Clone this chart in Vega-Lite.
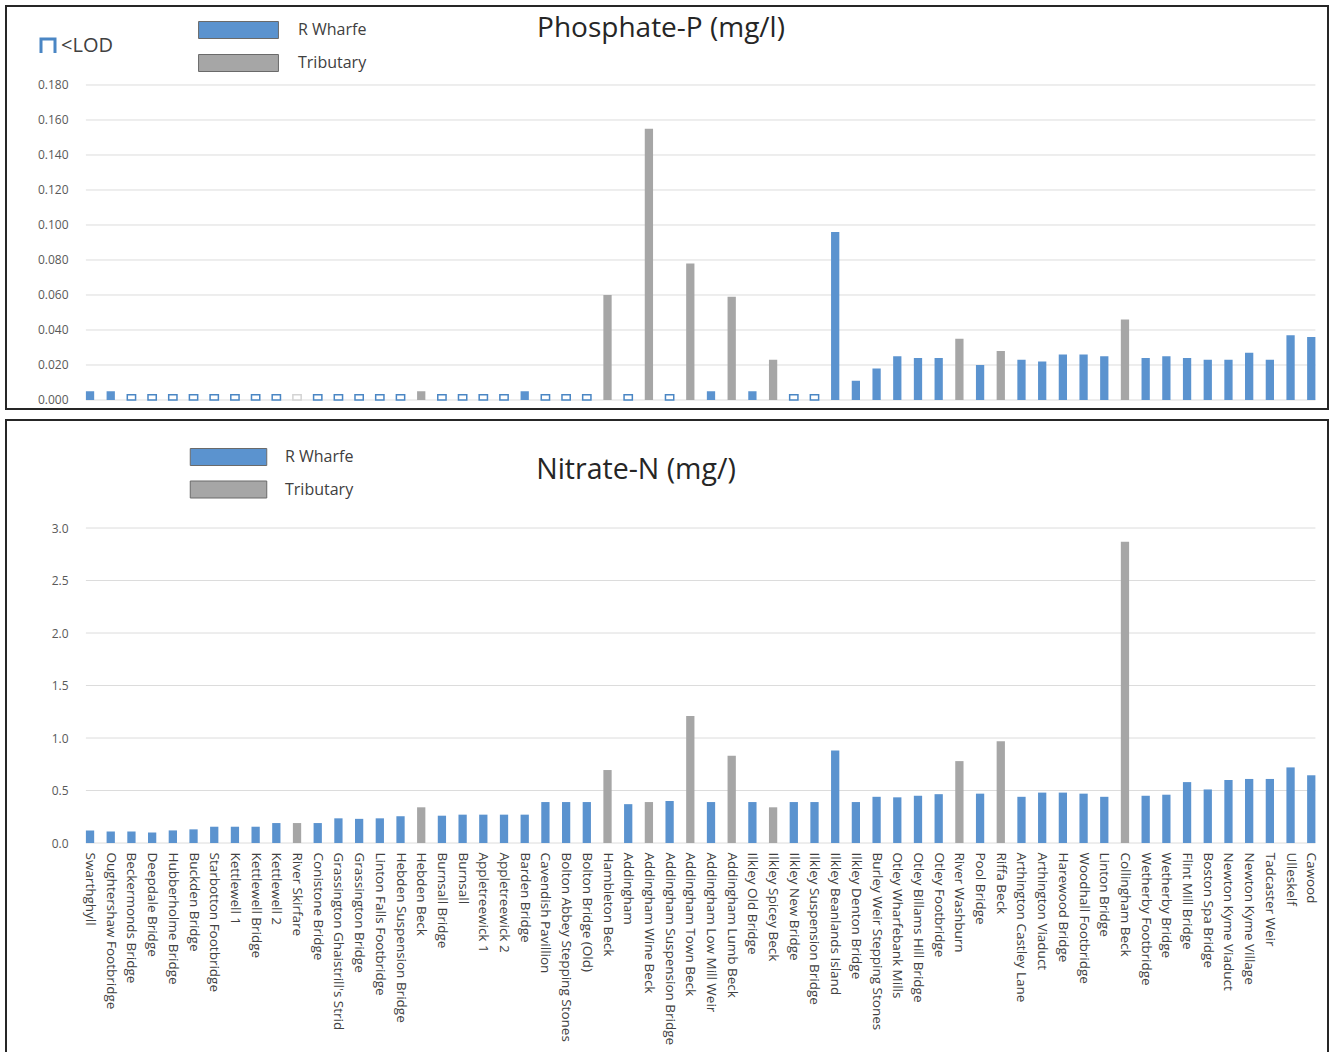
{
  "$schema": "https://vega.github.io/schema/vega-lite/v6.json",
  "background": "white",
  "padding": {"left": 5, "top": 5, "right": 5, "bottom": 0},
  "config": {
    "view": {"stroke": "#262626", "strokeWidth": 2},
    "font": "Open Sans"
  },
  "datasets": {
    "sites": [
      {"site": "Swarthghyll", "type": "R Wharfe", "status": "measured", "p": 0.005, "n": 0.12},
      {"site": "Oughtershaw Footbridge", "type": "R Wharfe", "status": "measured", "p": 0.005, "n": 0.11},
      {"site": "Beckermonds Bridge", "type": "R Wharfe", "status": "<LOD", "p": 0.003, "n": 0.11},
      {"site": "Deepdale Bridge", "type": "R Wharfe", "status": "<LOD", "p": 0.003, "n": 0.10},
      {"site": "Hubberholme Bridge", "type": "R Wharfe", "status": "<LOD", "p": 0.003, "n": 0.12},
      {"site": "Buckden Bridge", "type": "R Wharfe", "status": "<LOD", "p": 0.003, "n": 0.13},
      {"site": "Starbotton Footbridge", "type": "R Wharfe", "status": "<LOD", "p": 0.003, "n": 0.155},
      {"site": "Kettlewell 1", "type": "R Wharfe", "status": "<LOD", "p": 0.003, "n": 0.155},
      {"site": "Kettlewell Bridge", "type": "R Wharfe", "status": "<LOD", "p": 0.003, "n": 0.155},
      {"site": "Kettlewell 2", "type": "R Wharfe", "status": "<LOD", "p": 0.003, "n": 0.19},
      {"site": "River Skirfare", "type": "Tributary", "status": "<LOD", "p": 0.003, "n": 0.19},
      {"site": "Conistone Bridge", "type": "R Wharfe", "status": "<LOD", "p": 0.003, "n": 0.19},
      {"site": "Grassington Ghaistrill's Strid", "type": "R Wharfe", "status": "<LOD", "p": 0.003, "n": 0.235},
      {"site": "Grassington Bridge", "type": "R Wharfe", "status": "<LOD", "p": 0.003, "n": 0.23},
      {"site": "Linton Falls Footbridge", "type": "R Wharfe", "status": "<LOD", "p": 0.003, "n": 0.235},
      {"site": "Hebden Suspension Bridge", "type": "R Wharfe", "status": "<LOD", "p": 0.003, "n": 0.255},
      {"site": "Hebden Beck", "type": "Tributary", "status": "measured", "p": 0.005, "n": 0.34},
      {"site": "Burnsall Bridge", "type": "R Wharfe", "status": "<LOD", "p": 0.003, "n": 0.26},
      {"site": "Burnsall", "type": "R Wharfe", "status": "<LOD", "p": 0.003, "n": 0.27},
      {"site": "Appletreewick 1", "type": "R Wharfe", "status": "<LOD", "p": 0.003, "n": 0.27},
      {"site": "Appletreewick 2", "type": "R Wharfe", "status": "<LOD", "p": 0.003, "n": 0.27},
      {"site": "Barden Bridge", "type": "R Wharfe", "status": "measured", "p": 0.005, "n": 0.27},
      {"site": "Cavendish Pavillion", "type": "R Wharfe", "status": "<LOD", "p": 0.003, "n": 0.39},
      {"site": "Bolton Abbey Stepping Stones", "type": "R Wharfe", "status": "<LOD", "p": 0.003, "n": 0.39},
      {"site": "Bolton Bridge (Old)", "type": "R Wharfe", "status": "<LOD", "p": 0.003, "n": 0.39},
      {"site": "Hambleton Beck", "type": "Tributary", "status": "measured", "p": 0.060, "n": 0.695},
      {"site": "Addingham", "type": "R Wharfe", "status": "<LOD", "p": 0.003, "n": 0.37},
      {"site": "Addingham Wine Beck", "type": "Tributary", "status": "measured", "p": 0.155, "n": 0.39},
      {"site": "Addingham Suspension Bridge", "type": "R Wharfe", "status": "<LOD", "p": 0.003, "n": 0.40},
      {"site": "Addingham Town Beck", "type": "Tributary", "status": "measured", "p": 0.078, "n": 1.21},
      {"site": "Addingham Low Mill Weir", "type": "R Wharfe", "status": "measured", "p": 0.005, "n": 0.39},
      {"site": "Addingham Lumb Beck", "type": "Tributary", "status": "measured", "p": 0.059, "n": 0.83},
      {"site": "Ilkley Old Bridge", "type": "R Wharfe", "status": "measured", "p": 0.005, "n": 0.39},
      {"site": "Ilkley Spicey Beck", "type": "Tributary", "status": "measured", "p": 0.023, "n": 0.34},
      {"site": "Ilkley New Bridge", "type": "R Wharfe", "status": "<LOD", "p": 0.003, "n": 0.39},
      {"site": "Ilkley Suspension Bridge", "type": "R Wharfe", "status": "<LOD", "p": 0.003, "n": 0.39},
      {"site": "Ilkley Beanlands Island", "type": "R Wharfe", "status": "measured", "p": 0.096, "n": 0.88},
      {"site": "Ilkley Denton Bridge", "type": "R Wharfe", "status": "measured", "p": 0.011, "n": 0.39},
      {"site": "Burley Weir Stepping Stones", "type": "R Wharfe", "status": "measured", "p": 0.018, "n": 0.44},
      {"site": "Otley Wharfebank Mills", "type": "R Wharfe", "status": "measured", "p": 0.025, "n": 0.435},
      {"site": "Otley Billams Hill Bridge", "type": "R Wharfe", "status": "measured", "p": 0.024, "n": 0.45},
      {"site": "Otley Footbridge", "type": "R Wharfe", "status": "measured", "p": 0.024, "n": 0.465},
      {"site": "River Washburn", "type": "Tributary", "status": "measured", "p": 0.035, "n": 0.78},
      {"site": "Pool Bridge", "type": "R Wharfe", "status": "measured", "p": 0.020, "n": 0.47},
      {"site": "Riffa Beck", "type": "Tributary", "status": "measured", "p": 0.028, "n": 0.97},
      {"site": "Arthington Castley Lane", "type": "R Wharfe", "status": "measured", "p": 0.023, "n": 0.44},
      {"site": "Arthington Viaduct", "type": "R Wharfe", "status": "measured", "p": 0.022, "n": 0.48},
      {"site": "Harewood Bridge", "type": "R Wharfe", "status": "measured", "p": 0.026, "n": 0.48},
      {"site": "Woodhall Footbridge", "type": "R Wharfe", "status": "measured", "p": 0.026, "n": 0.47},
      {"site": "Linton Bridge", "type": "R Wharfe", "status": "measured", "p": 0.025, "n": 0.44},
      {"site": "Collingham Beck", "type": "Tributary", "status": "measured", "p": 0.046, "n": 2.87},
      {"site": "Wetherby Footbridge", "type": "R Wharfe", "status": "measured", "p": 0.024, "n": 0.45},
      {"site": "Wetherby Bridge", "type": "R Wharfe", "status": "measured", "p": 0.025, "n": 0.46},
      {"site": "Flint Mill Bridge", "type": "R Wharfe", "status": "measured", "p": 0.024, "n": 0.58},
      {"site": "Boston Spa Bridge", "type": "R Wharfe", "status": "measured", "p": 0.023, "n": 0.51},
      {"site": "Newton Kyme Viaduct", "type": "R Wharfe", "status": "measured", "p": 0.023, "n": 0.60},
      {"site": "Newton Kyme Village", "type": "R Wharfe", "status": "measured", "p": 0.027, "n": 0.61},
      {"site": "Tadcaster Weir", "type": "R Wharfe", "status": "measured", "p": 0.023, "n": 0.61},
      {"site": "Ulleskelf", "type": "R Wharfe", "status": "measured", "p": 0.037, "n": 0.72},
      {"site": "Cawood", "type": "R Wharfe", "status": "measured", "p": 0.036, "n": 0.645}
    ],
    "gridP": [
      {"v": 0, "a": "Swarthghyll", "b": "Cawood"},
      {"v": 0.02, "a": "Swarthghyll", "b": "Cawood"},
      {"v": 0.04, "a": "Swarthghyll", "b": "Cawood"},
      {"v": 0.06, "a": "Swarthghyll", "b": "Cawood"},
      {"v": 0.08, "a": "Swarthghyll", "b": "Cawood"},
      {"v": 0.10, "a": "Swarthghyll", "b": "Cawood"},
      {"v": 0.12, "a": "Swarthghyll", "b": "Cawood"},
      {"v": 0.14, "a": "Swarthghyll", "b": "Cawood"},
      {"v": 0.16, "a": "Swarthghyll", "b": "Cawood"},
      {"v": 0.18, "a": "Swarthghyll", "b": "Cawood"}
    ],
    "gridN": [
      {"v": 0, "a": "Swarthghyll", "b": "Cawood"},
      {"v": 0.5, "a": "Swarthghyll", "b": "Cawood"},
      {"v": 1.0, "a": "Swarthghyll", "b": "Cawood"},
      {"v": 1.5, "a": "Swarthghyll", "b": "Cawood"},
      {"v": 2.0, "a": "Swarthghyll", "b": "Cawood"},
      {"v": 2.5, "a": "Swarthghyll", "b": "Cawood"},
      {"v": 3.0, "a": "Swarthghyll", "b": "Cawood"}
    ]
  },
  "spacing": 9,
  "resolve": {"legend": {"color": "independent"}},
  "vconcat": [
    {
      "width": 1322,
      "height": 403,
      "title": {"text": "Phosphate-P (mg/l)", "anchor": "middle", "frame": "group", "orient": "top", "offset": -59, "baseline": "alphabetic", "dx": -6, "fontSize": 28, "font": "Open Sans", "fontWeight": "normal", "color": "#262626"},
      "layer": [
        {
          "data": {"name": "gridP"},
          "mark": {"type": "rule", "color": "#dcdcdc", "strokeWidth": 1},
          "encoding": {
            "x": {"field": "a", "type": "nominal", "bandPosition": 0, "axis": null,
              "scale": {"domain": ["Swarthghyll","Oughtershaw Footbridge","Beckermonds Bridge","Deepdale Bridge","Hubberholme Bridge","Buckden Bridge","Starbotton Footbridge","Kettlewell 1","Kettlewell Bridge","Kettlewell 2","River Skirfare","Conistone Bridge","Grassington Ghaistrill's Strid","Grassington Bridge","Linton Falls Footbridge","Hebden Suspension Bridge","Hebden Beck","Burnsall Bridge","Burnsall","Appletreewick 1","Appletreewick 2","Barden Bridge","Cavendish Pavillion","Bolton Abbey Stepping Stones","Bolton Bridge (Old)","Hambleton Beck","Addingham","Addingham Wine Beck","Addingham Suspension Bridge","Addingham Town Beck","Addingham Low Mill Weir","Addingham Lumb Beck","Ilkley Old Bridge","Ilkley Spicey Beck","Ilkley New Bridge","Ilkley Suspension Bridge","Ilkley Beanlands Island","Ilkley Denton Bridge","Burley Weir Stepping Stones","Otley Wharfebank Mills","Otley Billams Hill Bridge","Otley Footbridge","River Washburn","Pool Bridge","Riffa Beck","Arthington Castley Lane","Arthington Viaduct","Harewood Bridge","Woodhall Footbridge","Linton Bridge","Collingham Beck","Wetherby Footbridge","Wetherby Bridge","Flint Mill Bridge","Boston Spa Bridge","Newton Kyme Viaduct","Newton Kyme Village","Tadcaster Weir","Ulleskelf","Cawood"],
                "range": [79.9, 1309.4], "paddingInner": 0.6, "paddingOuter": 0}},
            "x2": {"field": "b", "bandPosition": 1},
            "y": {"field": "v", "type": "quantitative",
              "scale": {"domain": [-0.005143, 0.22514], "nice": false, "zero": false},
              "axis": {"values": [0, 0.02, 0.04, 0.06, 0.08, 0.1, 0.12, 0.14, 0.16, 0.18], "format": ".3f", "offset": -73, "grid": false, "domain": false, "ticks": false, "labelPadding": 11, "labelFont": "Open Sans", "labelFontSize": 12, "labelColor": "#595959", "title": null}}
          }
        },
        {
          "data": {"name": "sites"},
          "transform": [{"filter": "datum.status !== '<LOD'"}],
          "mark": {"type": "bar"},
          "encoding": {
            "x": {"field": "site", "type": "nominal", "sort": null, "axis": null},
            "y": {"field": "p", "type": "quantitative"},
            "color": {"field": "type", "type": "nominal",
              "scale": {"domain": ["R Wharfe", "Tributary"], "range": ["#5b93cf", "#a6a6a6"]},
              "legend": {"orient": "none", "legendX": 223.5, "legendY": 15, "title": null, "padding": 0,
                "symbolType": "M-4.7,-1H4.7V1H-4.7Z", "symbolSize": 289, "symbolStrokeColor": "#6a6a6a", "symbolStrokeWidth": 1, "symbolOpacity": 1,
                "labelFont": "Open Sans", "labelFontSize": 16, "labelColor": "#404040", "labelOffset": 50.5, "rowPadding": 11}}
          }
        },
        {
          "data": {"name": "sites"},
          "transform": [{"filter": "datum.status === '<LOD'"}],
          "mark": {"type": "bar", "fill": "white", "strokeWidth": 1.5},
          "encoding": {
            "x": {"field": "site", "type": "nominal", "sort": null, "axis": null},
            "y": {"field": "p", "type": "quantitative"},
            "stroke": {"field": "type", "type": "nominal", "scale": {"range": ["#4a86c4", "#d3d3d3"]},
              "legend": {"values": ["R Wharfe"], "labelExpr": "'<LOD'", "orient": "none", "legendX": 32, "legendY": 30, "title": null, "padding": 0,
                "symbolType": "M-1,1V-1H1V1", "symbolSize": 196, "symbolStrokeWidth": 3,
                "labelFont": "Open Sans", "labelFontSize": 20, "labelColor": "#404040", "labelOffset": 3}}
          }
        }
      ]
    },
    {
      "width": 1322,
      "height": 660,
      "title": {"text": "Nitrate-N (mg/)", "anchor": "middle", "frame": "group", "orient": "top", "offset": -87, "baseline": "alphabetic", "dx": -31, "fontSize": 28.5, "font": "Open Sans", "fontWeight": "normal", "color": "#262626"},
      "layer": [
        {
          "data": {"name": "gridN"},
          "mark": {"type": "rule", "color": "#dcdcdc", "strokeWidth": 1},
          "encoding": {
            "x": {"field": "a", "type": "nominal", "bandPosition": 0,
              "scale": {"domain": ["Swarthghyll","Oughtershaw Footbridge","Beckermonds Bridge","Deepdale Bridge","Hubberholme Bridge","Buckden Bridge","Starbotton Footbridge","Kettlewell 1","Kettlewell Bridge","Kettlewell 2","River Skirfare","Conistone Bridge","Grassington Ghaistrill's Strid","Grassington Bridge","Linton Falls Footbridge","Hebden Suspension Bridge","Hebden Beck","Burnsall Bridge","Burnsall","Appletreewick 1","Appletreewick 2","Barden Bridge","Cavendish Pavillion","Bolton Abbey Stepping Stones","Bolton Bridge (Old)","Hambleton Beck","Addingham","Addingham Wine Beck","Addingham Suspension Bridge","Addingham Town Beck","Addingham Low Mill Weir","Addingham Lumb Beck","Ilkley Old Bridge","Ilkley Spicey Beck","Ilkley New Bridge","Ilkley Suspension Bridge","Ilkley Beanlands Island","Ilkley Denton Bridge","Burley Weir Stepping Stones","Otley Wharfebank Mills","Otley Billams Hill Bridge","Otley Footbridge","River Washburn","Pool Bridge","Riffa Beck","Arthington Castley Lane","Arthington Viaduct","Harewood Bridge","Woodhall Footbridge","Linton Bridge","Collingham Beck","Wetherby Footbridge","Wetherby Bridge","Flint Mill Bridge","Boston Spa Bridge","Newton Kyme Viaduct","Newton Kyme Village","Tadcaster Weir","Ulleskelf","Cawood"],
                "range": [79.9, 1309.4], "paddingInner": 0.6, "paddingOuter": 0},
              "axis": {"orient": "bottom", "offset": -237, "labelAngle": 90, "labelAlign": "left", "labelBaseline": "middle", "labelPadding": 9, "domain": false, "ticks": false, "labelFont": "Open Sans", "labelFontSize": 13.5, "labelColor": "#404040", "labelLimit": 400, "labelOverlap": false, "title": null}},
            "x2": {"field": "b", "bandPosition": 1},
            "y": {"field": "v", "type": "quantitative",
              "scale": {"domain": [-2.2571, 4.0286], "nice": false, "zero": false},
              "axis": {"values": [0, 0.5, 1, 1.5, 2, 2.5, 3], "format": ".1f", "offset": -73, "grid": false, "domain": false, "ticks": false, "labelPadding": 11, "labelFont": "Open Sans", "labelFontSize": 12, "labelColor": "#595959", "title": null}}
          }
        },
        {
          "data": {"name": "sites"},
          "mark": {"type": "bar"},
          "encoding": {
            "x": {"field": "site", "type": "nominal", "sort": null},
            "y": {"field": "n", "type": "quantitative"},
            "color": {"field": "type", "type": "nominal",
              "scale": {"domain": ["R Wharfe", "Tributary"], "range": ["#5b93cf", "#a6a6a6"]},
              "legend": {"orient": "none", "legendX": 213.5, "legendY": 28, "title": null, "padding": 0,
                "symbolType": "M-4.5,-1H4.5V1H-4.5Z", "symbolSize": 289, "symbolStrokeColor": "#6a6a6a", "symbolStrokeWidth": 1, "symbolOpacity": 1,
                "labelFont": "Open Sans", "labelFontSize": 16, "labelColor": "#404040", "labelOffset": 47.5, "rowPadding": 10.5}}
          }
        }
      ]
    }
  ]
}
